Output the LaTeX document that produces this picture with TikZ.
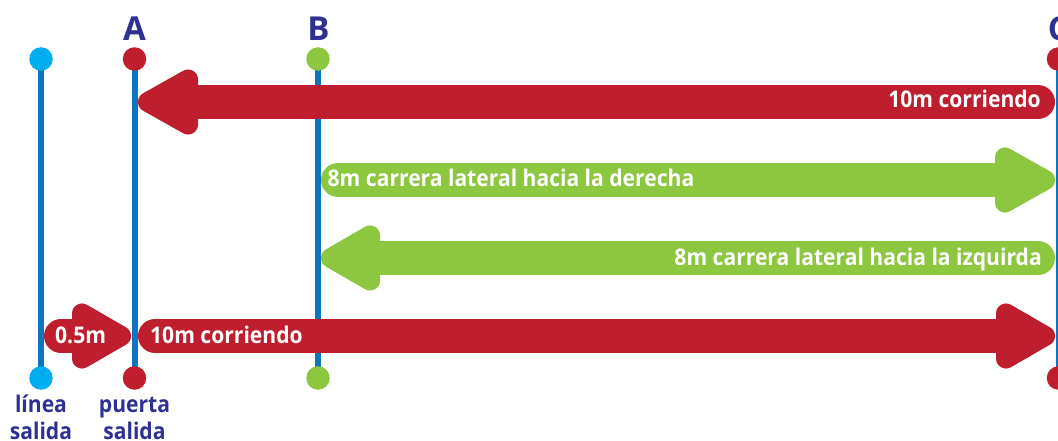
\documentclass[tikz,border=0pt]{standalone}
\usepackage{fontspec}
\setmainfont{Open Sans}
\newfontfamily\narrowfont[FakeStretch=0.917]{Open Sans}
\definecolor{cred}{HTML}{BE1E2D}
\definecolor{cgreen}{HTML}{8DC63F}
\definecolor{ccyan}{HTML}{00AEEF}
\definecolor{cblue}{HTML}{0F75BC}
\definecolor{cnavy}{HTML}{2E3192}
\tikzset{
  post/.style={cblue,line width=6pt},
  dotmark/.style={circle,inner sep=0pt,minimum size=23.5pt},
  barlabel/.style={text=white,font=\narrowfont\fontsize{23}{26}\selectfont\bfseries,inner sep=0pt,anchor=base west},
  letterlabel/.style={text=cnavy,font=\fontsize{33}{36}\selectfont\bfseries,inner sep=0pt,anchor=base},
  smalllabel/.style={text=cnavy,font=\narrowfont\fontsize{23}{26}\selectfont\bfseries,inner sep=0pt,anchor=base}
}
% #1 colour, #2 tail x (end of pill), #3 x of head back, #4 x of tip, #5 y, #6 direction (+1 right, -1 left)
\newcommand{\blockarrow}[6]{%
  \fill[#1,line join=round,line width=20pt,draw=#1]
    ({#3+#6*10},{#5-22.5}) -- ({#4-#6*10},#5) -- ({#3+#6*10},{#5+22.5}) -- cycle;
  \draw[#1,line width=34pt,line cap=round] ({#2+#6*17},#5) -- ({#3+#6*10},#5);
}
\begin{document}
\begin{tikzpicture}[x=1pt,y=-1pt]
\useasboundingbox (0,0) rectangle (1058,441);
\fill[white] (0,0) rectangle (1058,441);
% posts
\coordinate (pa) at (41,59); \coordinate (qa) at (41,378);
\coordinate (pb) at (134.5,59); \coordinate (qb) at (134.5,378);
\coordinate (pc) at (318,59); \coordinate (qc) at (318,378);
\coordinate (pd) at (1058.5,59); \coordinate (qd) at (1058.5,378);
\draw[post] (pa) -- (qa);
\draw[post] (pb) -- (qb);
\draw[post] (pc) -- (qc);
\draw[post] (pd) -- (qd);
\node[dotmark,fill=ccyan] (d1) at (pa) {};
\node[dotmark,fill=ccyan] (d2) at (qa) {};
\node[dotmark,fill=cred] (d3) at (pb) {};
\node[dotmark,fill=cred] (d4) at (qb) {};
\node[dotmark,fill=cgreen] (d5) at (pc) {};
\node[dotmark,fill=cgreen] (d6) at (qc) {};
\node[dotmark,fill=cred] (d7) at (pd) {};
\node[dotmark,fill=cred] (d8) at (qd) {};
% arrows
\blockarrow{cred}{1055}{198}{138}{102}{-1}
\blockarrow{cgreen}{321}{995}{1055}{180}{1}
\blockarrow{cgreen}{1055}{380}{321}{258}{-1}
\blockarrow{cred}{138}{996}{1055}{336}{1}
\blockarrow{cred}{44}{72}{131}{336}{1}
% labels
\node[letterlabel] (la) at (134.5,41) {A};
\node[letterlabel] (lb) at (318.5,41) {B};
\node[letterlabel] (lc) at (1058.5,41) {C};
\node[barlabel,anchor=base east] (t1) at (1041,108) {10m corriendo};
\node[barlabel] (t2) at (327.5,186) {8m carrera lateral hacia la derecha};
\node[barlabel,anchor=base east] (t3) at (1042,265) {8m carrera lateral hacia la izquirda};
\node[barlabel] (t4) at (150,343) {10m corriendo};
\node[barlabel] (t5) at (55,343) {0.5m};
\node[smalllabel] (s1) at (41,412) {línea};
\node[smalllabel] (s2) at (41,439.5) {salida};
\node[smalllabel] (s3) at (134.5,412) {puerta};
\node[smalllabel] (s4) at (134.5,439.5) {salida};
\end{tikzpicture}
\end{document}
